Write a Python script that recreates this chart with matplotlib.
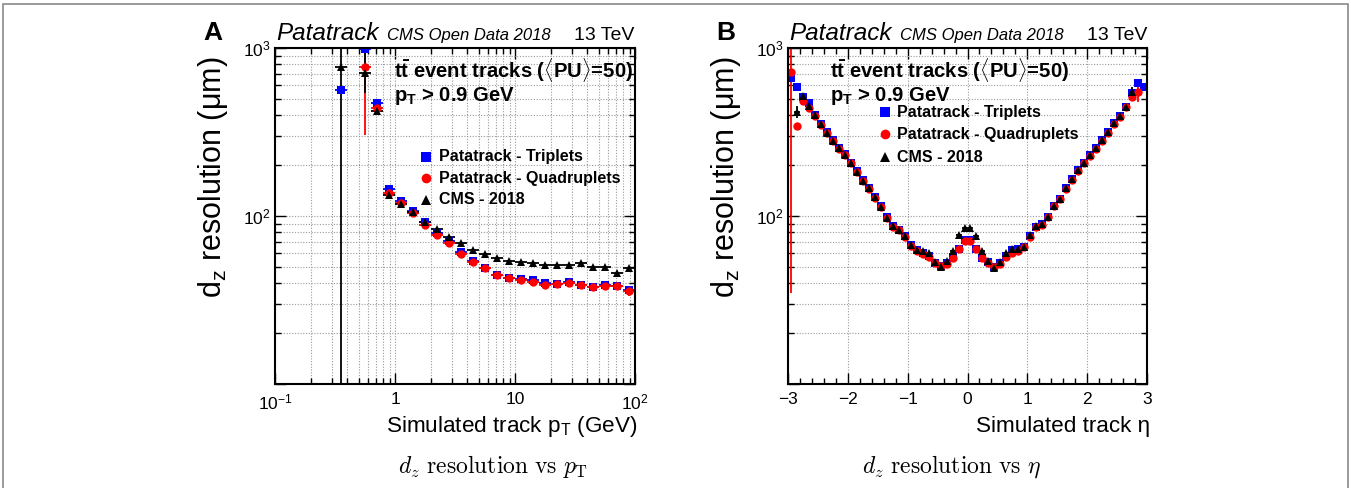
import numpy as np
import matplotlib.pyplot as plt
from matplotlib.ticker import FixedLocator, FixedFormatter, LogLocator, MultipleLocator, NullFormatter
from matplotlib.patches import Rectangle

plt.rcParams['font.family'] = ['Liberation Sans', 'DejaVu Sans']
plt.rcParams['mathtext.fontset'] = 'custom'
plt.rcParams['mathtext.rm'] = 'Liberation Sans'
plt.rcParams['mathtext.it'] = 'Liberation Sans:italic'
plt.rcParams['mathtext.bf'] = 'Liberation Sans:bold'

W, H = 1351, 488

# ---- panel A: dz resolution vs simulated pT (bin centres, GeV) ----
pt = [0.355, 0.562, 0.708, 0.891, 1.12, 1.41, 1.78, 2.24, 2.82, 3.55, 4.47, 5.62,
      7.08, 8.91, 11.2, 14.1, 17.8, 22.4, 28.2, 35.5, 44.7, 56.2, 70.8, 89.1]
pt_trip = [562, 990, 469, 145, 123, 107, 92, 79.6, 70.7, 60.8, 54, 48.8,
           44.8, 43, 42.4, 41.6, 39.8, 39.4, 40.5, 38.9, 38.0, 38.9, 38.3, 36.3]
pt_quad = [np.nan, 774, 438, 138, 120, 104, 89, 77, 68.8, 59.4, 53.5, 48.8,
           44.6, 43, 41.6, 40.7, 38.9, 39.2, 39.8, 38.7, 37.6, 38.3, 38.3, 35.8]
pt_cms = [774, 707, 422, 134, 118, 106, 92.5, 83.3, 75.3, 68.8, 62.7, 59.4,
          56.2, 54.2, 53.5, 52.7, 51.3, 51.1, 51.1, 52.7, 49.5, 49.9, 45.6, 48.8]
# visible error bar ends (index: (low, high)); the rest hide behind the markers
pt_quad_err = {1: (304, 5000), 23: (33.5, 38.5)}
pt_cms_err = {0: (1, 5000), 1: (537, 5000)}

# ---- panel B: dz resolution vs simulated eta ----
eta = [round(-2.95 + 0.1 * i, 2) for i in range(60)]
eta_trip = [666, 589, 513, 469, 399, 352, 315, 282, 254, 233,
            208, 185, 163, 147, 130, 114, 99, 87, 83, 76,
            67.2, 62.8, 60.5, 57.8, 52.3, 50.4, 52.3, 56.8, 63.9, 71.9,
            71.9, 63.9, 56.5, 53.4, 49.5, 52.3, 57.8, 62.8, 63.5, 65.7,
            76, 86.4, 89.5, 99, 115, 127, 146, 165, 188, 208,
            231, 253, 283, 316, 358, 394, 448, 537, 622, 589]
eta_quad = [723, 343, 484, 442, 395, 349, 312, 280, 252, 231,
            206, 183, 161, 145, 128, 113, 97, 86, 82, 75,
            65.9, 62, 59.4, 56.9, 52.3, 50.4, 51.8, 56, 63.4, 71.3,
            71.3, 63.4, 56, 52.8, 49.5, 51.8, 56.9, 60.5, 62.3, 65,
            75.5, 85.5, 88.5, 98, 114, 126, 144, 163, 186, 206,
            229, 251, 280, 313, 354, 390, 443, 509, 549, np.nan]
eta_cms = [np.nan, 418, 515, 453, 399, 352, 314, 281, 253, 232,
           207, 184, 162, 146, 129, 113, 97, 87, 83, 76.5,
           67.5, 63, 61.6, 60.5, 53.5, 49.6, 54.2, 61.6, 76.7, 84.5,
           84.5, 76.5, 61.6, 53.7, 48.9, 52.9, 60.5, 63.5, 64, 65,
           77, 87, 89.5, 99, 115, 127, 146, 165, 188, 208,
           231, 253, 283, 316, 358, 394, 448, 549, np.nan, np.nan]
eta_quad_err = {0: (34.8, 5000), 58: (479, 589)}
eta_cms_err = {1: (383, 452), 57: (500, 585)}

series_style = [
    ('Patatrack - Triplets', '#0000ff', 's', 6.0),
    ('Patatrack - Quadruplets', '#ff0000', 'o', 6.0),
    ('CMS - 2018', 'black', '^', 6.0),
]


def yerr_from(vals, errs):
    vals = np.array(vals, dtype=float)
    lo = np.zeros_like(vals)
    hi = np.zeros_like(vals)
    for i, (a, b) in errs.items():
        lo[i] = vals[i] - a
        hi[i] = b - vals[i]
    return [lo, hi]


fig = plt.figure(figsize=(W / 100, H / 100), dpi=100)


def px_axes(l, t, r, b):
    return fig.add_axes([l / W, 1 - b / H, (r - l) / W, (b - t) / H])


def ftext(x, y, s, **kw):
    fig.text(x / W, 1 - y / H, s, **kw)


axA = px_axes(275, 48, 635, 384)
axB = px_axes(788, 48, 1147, 384)

grid_kw = dict(color='#9a9a9a', linestyle=(0, (1, 1.5)), linewidth=0.8)

# panel A
pt_arr = np.array(pt)
half = 10 ** 0.05
xerrA = [pt_arr - pt_arr / half, pt_arr * half - pt_arr]
errsA = [{}, pt_quad_err, pt_cms_err]
for (lab, col, mk, ms), vals, errs in zip(series_style, [pt_trip, pt_quad, pt_cms], errsA):
    axA.errorbar(pt, vals, xerr=xerrA, yerr=yerr_from(vals, errs), fmt=mk, color=col,
                 ms=ms, mew=0, elinewidth=1.3, capsize=0)
axA.set_xscale('log')
axA.set_yscale('log')
axA.set_xlim(0.1, 100)
axA.set_ylim(10, 1000)
axA.xaxis.set_major_locator(FixedLocator([0.1, 1, 10, 100]))
axA.xaxis.set_major_formatter(FixedFormatter(['$10^{-1}$', '1', '10', '$10^{2}$']))
axA.xaxis.set_minor_locator(LogLocator(base=10, subs=range(2, 10), numticks=20))
axA.xaxis.set_minor_formatter(NullFormatter())

# panel B
errsB = [{}, eta_quad_err, eta_cms_err]
for (lab, col, mk, ms), vals, errs in zip(series_style, [eta_trip, eta_quad, eta_cms], errsB):
    axB.errorbar(eta, vals, xerr=0.05, yerr=yerr_from(vals, errs), fmt=mk, color=col,
                 ms=ms, mew=0, elinewidth=1.3, capsize=0)
axB.set_yscale('log')
axB.set_xlim(-3, 3)
axB.set_ylim(10, 1000)
axB.xaxis.set_major_locator(MultipleLocator(1))
axB.xaxis.set_minor_locator(MultipleLocator(0.2))

for ax in (axA, axB):
    ax.yaxis.set_major_locator(FixedLocator([10, 100, 1000]))
    ax.yaxis.set_major_formatter(FixedFormatter(['', '$10^{2}$', '$10^{3}$']))
    ax.yaxis.set_minor_locator(LogLocator(base=10, subs=range(2, 10), numticks=20))
    ax.yaxis.set_minor_formatter(NullFormatter())
    ax.tick_params(which='both', direction='in', top=True, right=True, labelsize=12.5, width=1)
    ax.tick_params(which='major', length=8)
    ax.tick_params(which='minor', length=4)
    ax.tick_params(axis='x', pad=6)
    ax.tick_params(axis='y', pad=3)
    for sp in ax.spines.values():
        sp.set_linewidth(1.5)
    ax.set_axisbelow(True)

axA.grid(True, which='both', axis='both', **grid_kw)
axB.grid(True, which='major', axis='x', **grid_kw)
axB.grid(True, which='both', axis='y', **grid_kw)

# headers and labels
for x0, letter in [(0, 'A'), (513, 'B')]:
    ftext(203 + x0, 40, letter, fontsize=19, fontweight='bold', va='baseline')
    ftext(276 + x0, 40, 'Patatrack', fontsize=17.5, style='italic', va='baseline')
    ftext(387 + x0, 40, 'CMS Open Data 2018', fontsize=12, style='italic', va='baseline')
    ftext(634 + x0, 40, '13 TeV', fontsize=14, ha='right', va='baseline')
    ftext(213 + x0, 57, r'd$_{\mathrm{z}}$ resolution (μm)', fontsize=22, rotation=90,
          ha='center', va='top')

ftext(637, 432, r'Simulated track p$_{\mathrm{T}}$ (GeV)', fontsize=16.2, ha='right', va='baseline')
ftext(1150, 432, 'Simulated track η', fontsize=16.2, ha='right', va='baseline')

sel_lines = [r'$\mathbf{t\bar{t}}$ event tracks ($\langle$PU$\rangle$=50)',
             r'p$_{\mathbf{T}}$ > 0.9 GeV']
for x0, y0 in [(394, 78), (830, 78)]:
    ftext(x0, y0, sel_lines[0], fontsize=14.6, fontweight='bold', va='baseline')
    ftext(x0, y0 + 23, sel_lines[1], fontsize=14.6, fontweight='bold', va='baseline')

# hand-placed legends
for mx, tx, ys in [(426, 439, [157, 178, 200]), (885, 897, [112, 134, 157])]:
    for (lab, col, mk, ms), yy in zip(series_style, ys):
        fig.add_artist(plt.Line2D([mx / W], [1 - yy / H], marker=mk, color=col, ms=ms + 1,
                                  mew=0, linestyle='none', transform=fig.transFigure))
        ftext(tx, yy, lab, fontsize=11.5, fontweight='bold', va='center')

# captions
ftext(493, 467, r'$d_z\ \mathrm{resolution\ vs}\ p_\mathrm{T}$', fontsize=17, ha='center',
      va='center', math_fontfamily='cm')
ftext(951, 467, r'$d_z\ \mathrm{resolution\ vs}\ \eta$', fontsize=17, ha='center',
      va='center', math_fontfamily='cm')

fig.add_artist(Rectangle((3 / W, -0.2), 1345 / W, 1.2 - 4 / H, transform=fig.transFigure,
                         fill=False, edgecolor='#8a8a8a', linewidth=1.2))

fig.savefig('out.png', dpi=100)
